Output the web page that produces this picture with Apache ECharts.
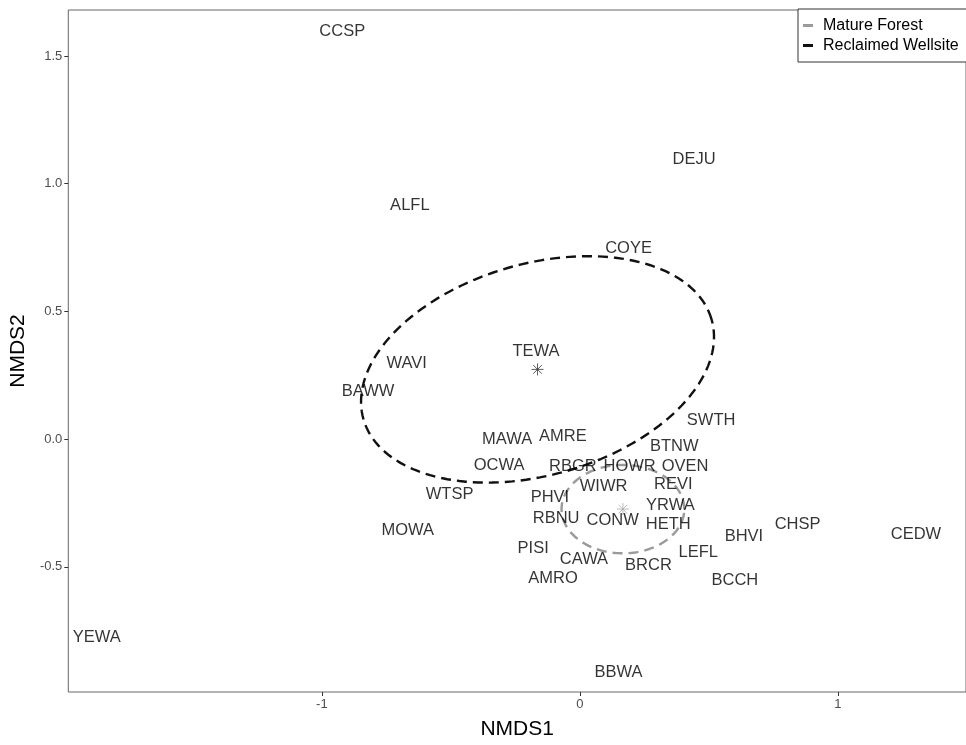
<!DOCTYPE html>
<html>
<head>
<meta charset="utf-8">
<script src="https://cdn.jsdelivr.net/npm/echarts@6/dist/echarts.min.js"></script>
<style>html,body{margin:0;padding:0;background:#fff;}#c{width:966px;height:745px;}</style>
</head>
<body>
<div id="c"></div>
<script>
// Species labels and NMDS scores
const species = ['CCSP','DEJU','ALFL','COYE','TEWA','WAVI','BAWW','SWTH','MAWA','AMRE','BTNW','OCWA','RBGR','HOWR','OVEN','WTSP','WIWR','REVI','PHVI','YRWA','RBNU','CONW','HETH','MOWA','CHSP','CEDW','BHVI','PISI','LEFL','CAWA','BRCR','AMRO','BCCH','YEWA','BBWA'];
const nmds1 = [-0.921,0.443,-0.659,0.189,-0.170,-0.671,-0.821,0.509,-0.282,-0.066,0.366,-0.313,-0.027,0.193,0.408,-0.505,0.092,0.362,-0.116,0.351,-0.092,0.127,0.343,-0.667,0.844,1.303,0.636,-0.181,0.459,0.016,0.266,-0.104,0.601,-1.873,0.150];
const nmds2 = [1.595,1.094,0.913,0.748,0.343,0.297,0.185,0.073,-0.000,0.012,-0.027,-0.104,-0.108,-0.108,-0.108,-0.216,-0.185,-0.177,-0.227,-0.258,-0.312,-0.320,-0.335,-0.358,-0.335,-0.374,-0.382,-0.428,-0.443,-0.470,-0.493,-0.547,-0.555,-0.775,-0.913];

// Group ellipses: centroid, semi-axes, tilt (degrees)
const groups = ['Mature Forest','Reclaimed Wellsite'];
const groupColors = ['#9a9a9a','#111111'];
const centroidX = [0.167,-0.164];
const centroidY = [-0.274,0.273];
const semiA = [0.238,0.7025];
const semiB = [0.173,0.4136];
const tiltDeg = [0,16.3];

// Tick labels
const xTicks = [-1,0,1];
const yTicks = [-0.5,0,0.5,1.0,1.5];

function ellipsePts(i){
  const pts=[]; const phi=tiltDeg[i]*Math.PI/180; const n=160;
  for(let k=0;k<=n;k++){
    const t=2*Math.PI*k/n;
    const x=centroidX[i]+semiA[i]*Math.cos(t)*Math.cos(phi)-semiB[i]*Math.sin(t)*Math.sin(phi);
    const y=centroidY[i]+semiA[i]*Math.cos(t)*Math.sin(phi)+semiB[i]*Math.sin(t)*Math.cos(phi);
    pts.push([x,y]);
  }
  return pts;
}

const chart = echarts.init(document.getElementById('c'), null, {renderer:'canvas'});
const font = 'Liberation Sans, Arial, sans-serif';
const asterisk = 'path://M0,-6L0,6M-6,0L6,0M-4.3,-4.3L4.3,4.3M-4.3,4.3L4.3,-4.3';

const series = [];
groups.forEach((g,i)=>{
  series.push({
    name:g, type:'line', data:ellipsePts(i), showSymbol:false, symbol:'none', smooth:false,
    lineStyle:{color:groupColors[i], width:2.4, type:[10,6]},
    itemStyle:{color:groupColors[i]}, z:2, silent:true
  });
});
series.push({
  type:'scatter', symbol:asterisk, symbolSize:12, symbolKeepAspect:true,
  data: groups.map((g,i)=>({value:[centroidX[i],centroidY[i]], itemStyle:{color:'none', borderColor: i===0?'#aaaaaa':'#333333', borderWidth:1}})),
  z:3, silent:true
});
series.push({
  type:'scatter', symbolSize:0,
  data: species.map((s,i)=>({name:s, value:[nmds1[i],nmds2[i]]})),
  label:{show:true, position:'inside', formatter:p=>p.name, color:'#000', fontSize:16.5, fontFamily:font, textBorderWidth:0},
  z:4, silent:true
});

chart.setOption({
  animation:false,
  backgroundColor:'#fff',
  grid:{left:63, right:0, top:10, bottom:42, show:true, borderColor:'#666', borderWidth:1, containLabel:false},
  legend:{
    data:groups, orient:'vertical', left:798, top:9, icon:'rect', itemWidth:10, itemHeight:3, itemGap:1,
    padding:[7,20,7,5], borderColor:'#333', borderWidth:1, backgroundColor:'#fff',
    textStyle:{fontSize:16, fontFamily:font, color:'#000', lineHeight:19, padding:[0,0,0,5]}
  },
  xAxis:{
    type:'value', min:-1.983, max:1.497, name:'NMDS1', nameLocation:'middle', nameGap:27,
    nameTextStyle:{fontSize:21, fontFamily:font, color:'#000'},
    axisLine:{show:false, onZero:false}, splitLine:{show:false},
    axisTick:{show:true, customValues:xTicks, length:4, lineStyle:{color:'#333'}},
    axisLabel:{customValues:xTicks, color:'#4d4d4d', fontSize:13, fontFamily:font, margin:6, formatter:v=>String(v)}
  },
  yAxis:{
    type:'value', min:-0.990, max:1.680, name:'NMDS2', nameLocation:'middle', nameGap:38,
    nameTextStyle:{fontSize:21, fontFamily:font, color:'#000'},
    axisLine:{show:false, onZero:false}, splitLine:{show:false},
    axisTick:{show:true, customValues:yTicks, length:4, lineStyle:{color:'#333'}},
    axisLabel:{customValues:yTicks, color:'#4d4d4d', fontSize:13, fontFamily:font, margin:6, formatter:v=>v.toFixed(1)}
  },
  series:series
});
</script>
</body>
</html>
